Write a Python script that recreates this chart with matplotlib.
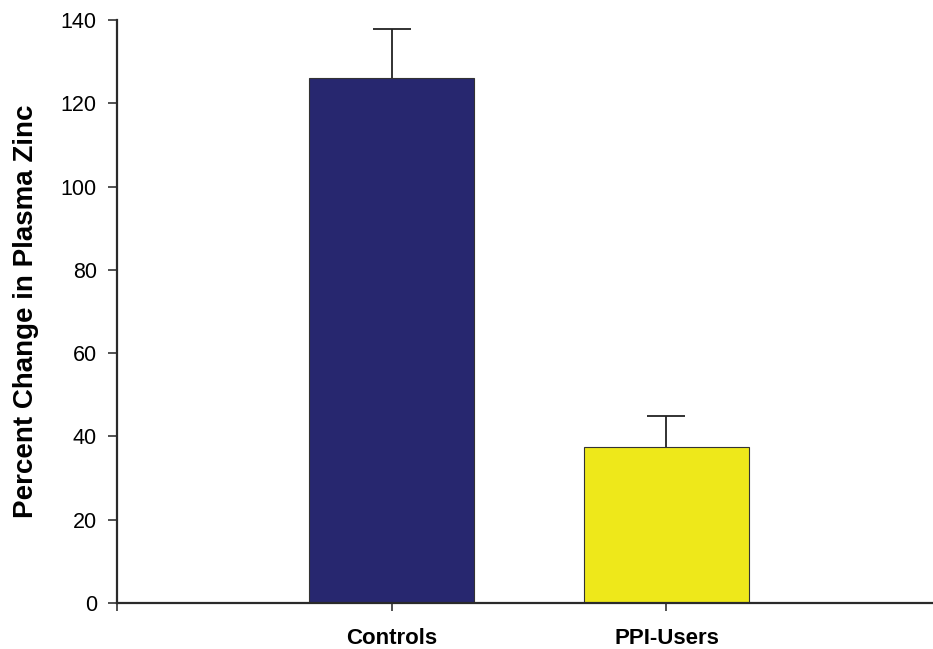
import matplotlib
matplotlib.use("Agg")
import matplotlib.pyplot as plt

# ── Data ──────────────────────────────────────────────────────────────────────
groups     = ["Controls", "PPI-Users"]
pct_change = [126.0, 37.5]
sem_upper  = [12.0, 7.5]
bar_colors = ["#27276f", "#eee81a"]
y_ticks    = [0, 20, 40, 60, 80, 100, 120, 140]
# ──────────────────────────────────────────────────────────────────────────────

plt.rcParams["font.family"] = ["Liberation Sans", "DejaVu Sans"]

fig = plt.figure(figsize=(9.33, 6.49), dpi=100)
ax = fig.add_axes([0.1254, 0.0709, 0.8746, 0.898])

xpos = [1, 2]
ax.bar(xpos, pct_change, width=0.6, color=bar_colors, edgecolor="#333333",
       linewidth=0.8, zorder=2)
_, caps, _ = ax.errorbar(xpos, pct_change, yerr=[[0, 0], sem_upper], fmt="none",
                         ecolor="#222222", elinewidth=1.3, capsize=14,
                         capthick=1.3, zorder=3)
# one-sided bars: hide the lower caps sitting on the bar tops
caps[0].set_visible(False)

ax.set_xlim(0, 2.97)
ax.set_ylim(0, 140)
ax.set_yticks(y_ticks)
ax.set_yticklabels([str(v) for v in y_ticks], fontsize=15.5)
ax.set_xticks([0] + xpos)
ax.set_xticklabels([""] + groups, fontsize=16, fontweight="bold")

for side in ["top", "right"]:
    ax.spines[side].set_visible(False)
for side in ["left", "bottom"]:
    ax.spines[side].set_color("#2a2a2a")
    ax.spines[side].set_linewidth(1.6)

ax.tick_params(axis="y", direction="out", length=6.5, width=1.2, color="#333333", pad=8)
ax.tick_params(axis="x", direction="out", length=6, width=1.2, color="#333333", pad=12)

ax.set_ylabel("Percent Change in Plasma Zinc", fontsize=20,
              fontweight="bold", labelpad=16)

fig.savefig("out.png", dpi=100)
